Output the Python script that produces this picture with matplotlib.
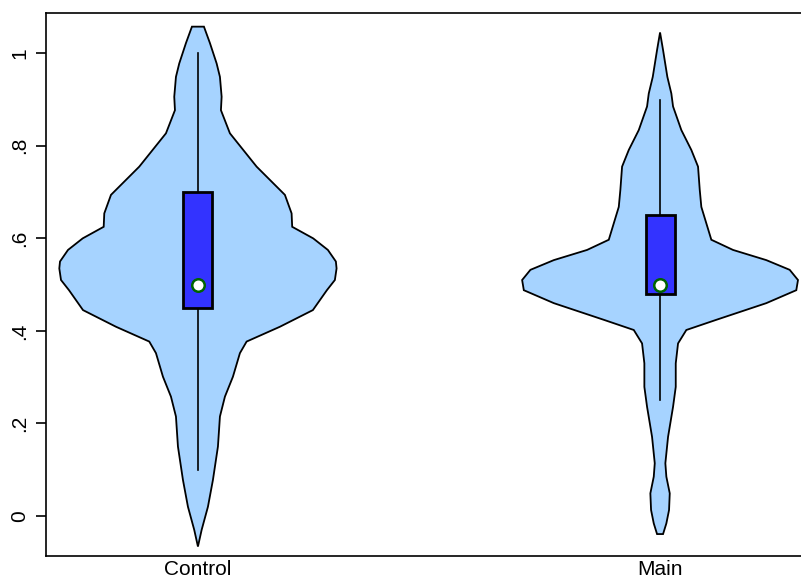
import matplotlib
matplotlib.use("Agg")
import matplotlib.pyplot as plt
import numpy as np

plt.rcParams['font.family'] = ['Liberation Sans', 'DejaVu Sans']

groups = ["Control", "Main"]

# violin outlines: y value and relative density (half width)
ctrl_y = [-0.066, -0.030, 0.020, 0.078, 0.150, 0.215, 0.258, 0.301, 0.352, 0.377,
          0.409, 0.445, 0.488, 0.510, 0.535, 0.550, 0.575, 0.600, 0.625, 0.654,
          0.694, 0.755, 0.827, 0.877, 0.906, 0.949, 0.978, 1.022, 1.0575]
ctrl_d = [0, 3.7, 10, 15, 20, 22, 27, 35, 42, 48.7,
          82, 115, 129, 137, 138.7, 138, 130, 115.3, 94.3, 93.7,
          87, 58.7, 32, 23, 23.7, 22, 18.7, 12, 6]

main_y = [-0.039, -0.016, 0.013, 0.049, 0.085, 0.114, 0.171, 0.236, 0.279, 0.330,
          0.373, 0.402, 0.424, 0.460, 0.488, 0.510, 0.532, 0.553, 0.575, 0.597,
          0.668, 0.705, 0.755, 0.791, 0.834, 0.885, 0.913, 0.949, 1.007, 1.045]
main_d = [3, 6.3, 9, 9.7, 6.3, 5.3, 8, 13, 15.7, 15.7,
          18, 26.3, 56.3, 106.3, 136.3, 138, 129.7, 106.3, 73, 51.3,
          41.3, 39.7, 38, 31.3, 21.3, 13, 11.3, 7.3, 3, 0]

# box stats: lower whisker, q1, median, q3, upper whisker
ctrl_box = [0.10, 0.45, 0.50, 0.70, 1.00]
main_box = [0.25, 0.48, 0.50, 0.65, 0.90]

yticks = [0, 0.2, 0.4, 0.6, 0.8, 1]
ytick_labels = ["0", ".2", ".4", ".6", ".8", "1"]

fig = plt.figure(figsize=(8.01, 5.78), dpi=100)
ax = fig.add_axes([46/801, 22/578, 755/801, 543/578])

dmax = max(max(ctrl_d), max(main_d))
half = 0.3
bw = 0.0314

for i, (ys, ds, bx) in enumerate([(ctrl_y, ctrl_d, ctrl_box), (main_y, main_d, main_box)]):
    c = i + 1
    ys = np.array(ys)
    w = np.array(ds) / dmax * half
    xs = np.concatenate([c + w, (c - w)[::-1]])
    yy = np.concatenate([ys, ys[::-1]])
    ax.fill(xs, yy, facecolor='#a6d3ff', edgecolor='black', lw=1.3, zorder=1)
    lo, q1, med, q3, hi = bx
    ax.plot([c, c], [lo, q1], color='black', lw=1.2, zorder=2)
    ax.plot([c, c], [q3, hi], color='black', lw=1.2, zorder=2)
    ax.add_patch(plt.Rectangle((c - bw, q1), 2 * bw, q3 - q1, facecolor='#3333ff',
                               edgecolor='black', lw=2, zorder=3))
    ax.plot([c], [med], marker='o', ms=9, mfc='white', mec='#006400', mew=1.8, zorder=4)

ax.set_xlim(1 - 152/462.3, 2 + 141/462.3)
ax.set_ylim(-0.0864, 1.087)
ax.set_xticks([1, 2])
ax.set_xticklabels(groups, fontsize=15)
ax.set_yticks(yticks)
ax.set_yticklabels(ytick_labels, fontsize=15, rotation=90, va='center')
ax.tick_params(axis='x', length=0, pad=3)
ax.tick_params(axis='y', length=7, width=1.2, pad=5)
ax.spines['right'].set_visible(False)
for s in ['left', 'bottom', 'top']:
    ax.spines[s].set_linewidth(1.2)

fig.savefig("out.png", dpi=100)
